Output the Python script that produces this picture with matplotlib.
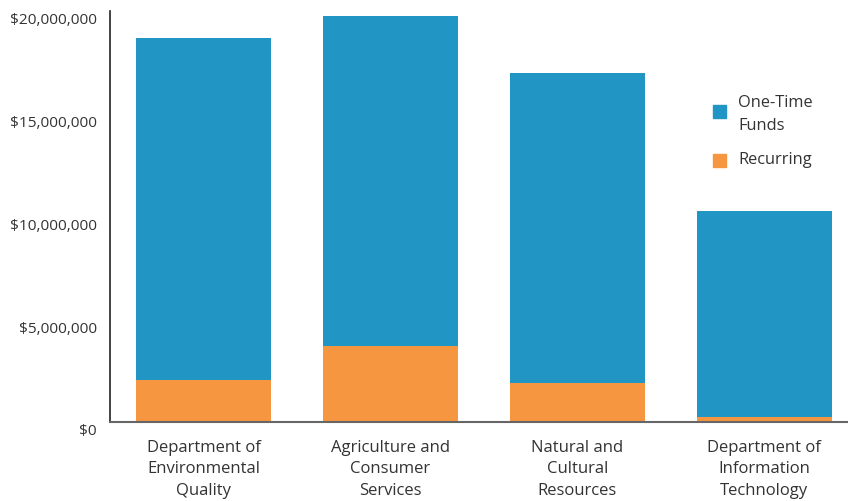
import matplotlib.pyplot as plt
import matplotlib.transforms as mtransforms
from matplotlib.patches import Rectangle
from matplotlib.ticker import FuncFormatter

plt.rcParams['font.family'] = ['Open Sans', 'DejaVu Sans']

# data
categories = ["Department of\nEnvironmental\nQuality",
              "Agriculture and\nConsumer\nServices",
              "Natural and\nCultural\nResources",
              "Department of\nInformation\nTechnology"]
recurring = [2040000, 3700000, 1910000, 240000]
one_time = [16650000, 16060000, 15070000, 10030000]
yticks = [0, 5000000, 10000000, 15000000, 20000000]

blue = "#2196c4"
orange = "#f69640"
text_col = "#333333"

fig = plt.figure(figsize=(8.48, 5.01), dpi=100)
ax = fig.add_axes([110 / 848, 79 / 501, 738 / 848, 411 / 501])

x = list(range(len(categories)))
ax.bar(x, recurring, width=0.722, color=orange, zorder=2)
ax.bar(x, one_time, width=0.722, bottom=recurring, color=blue, zorder=2)

ax.set_xlim(-0.5, 3.447)
ax.set_ylim(0, 20000000)
ax.set_yticks(yticks)
ax.yaxis.set_major_formatter(FuncFormatter(lambda v, p: "${:,.0f}".format(v)))
ax.set_xticks(x)
ax.set_xticklabels(categories, linespacing=1.45)

ax.tick_params(axis='y', length=0, pad=9.5, labelsize=11.1, labelcolor=text_col)
ax.tick_params(axis='x', length=0, pad=13, labelsize=12, labelcolor=text_col)

# y labels sit a little below their values in the original
off = mtransforms.ScaledTranslation(0, -8 / 100, fig.dpi_scale_trans)
for lab in ax.get_yticklabels():
    lab.set_transform(lab.get_transform() + off)

for s in ['top', 'right']:
    ax.spines[s].set_visible(False)
ax.spines['left'].set_color("#222222")
ax.spines['left'].set_linewidth(1.2)
ax.spines['bottom'].set_color("#666666")
ax.spines['bottom'].set_linewidth(1.5)

# legend drawn by hand
fig.patches.append(Rectangle((713 / 848, 1 - 118 / 501), 13 / 848, 13 / 501,
                             transform=fig.transFigure, color=blue))
fig.text(738 / 848, 1 - 114.5 / 501, "One-Time\nFunds", fontsize=11.8,
         color=text_col, va='center', ha='left', linespacing=1.55)
fig.patches.append(Rectangle((713 / 848, 1 - 167 / 501), 13 / 848, 13 / 501,
                             transform=fig.transFigure, color=orange))
fig.text(738 / 848, 1 - 160 / 501, "Recurring", fontsize=11.8,
         color=text_col, va='center', ha='left')

fig.savefig("out.png", dpi=100)
